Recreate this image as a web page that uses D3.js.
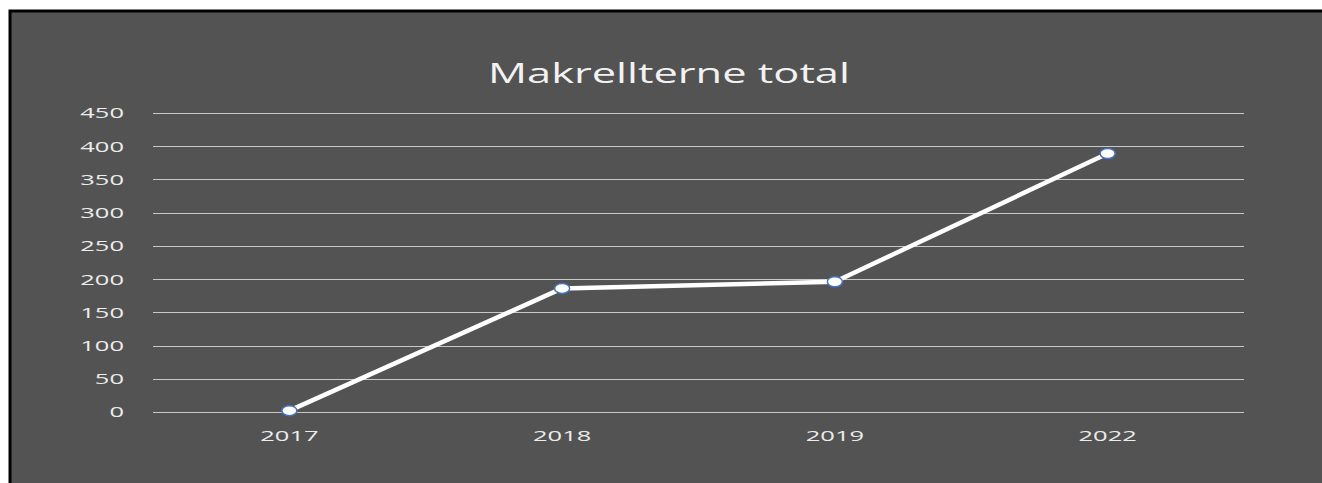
<!DOCTYPE html>
<html>
<head>
<meta charset="utf-8">
<script src="https://cdn.jsdelivr.net/npm/d3@7"></script>
<style>
  body { margin: 0; background: #fff; }
  svg { display: block; }
</style>
</head>
<body>
<script>
const title = "Makrellterne total";
const years = ["2017", "2018", "2019", "2022"];
const totals = [2, 186, 196, 389];
const yTicks = [0, 50, 100, 150, 200, 250, 300, 350, 400, 450];

const w = 1322;
const h = 483;
const margin = { top: 113, right: 78, bottom: 71, left: 153 };
const font = "'Open Sans', sans-serif";
const stretch = 1.7; // the reference text is drawn wide

const svg = d3.select("body").append("svg").attr("width", w).attr("height", h);

// dark chart area with black frame
svg
  .append("rect")
  .attr("x", 10)
  .attr("y", 11)
  .attr("width", w + 20)
  .attr("height", h + 20)
  .attr("fill", "#535353")
  .attr("stroke", "#000")
  .attr("stroke-width", 3);

const x = d3
  .scaleBand()
  .domain(years)
  .range([margin.left, w - margin.right]);

const y = d3
  .scaleLinear()
  .domain([0, 450])
  .range([h - margin.bottom, margin.top]);

svg
  .append("text")
  .attr("transform", "translate(669,83) scale(1.55,1)")
  .attr("text-anchor", "middle")
  .attr("fill", "#f2f2f2")
  .style("font-family", font)
  .style("font-size", "28px")
  .text(title);

// gridlines
svg
  .append("g")
  .selectAll("line")
  .data(yTicks)
  .enter()
  .append("line")
  .attr("x1", margin.left)
  .attr("x2", w - margin.right)
  .attr("y1", (d) => Math.round(y(d)) + 0.5)
  .attr("y2", (d) => Math.round(y(d)) + 0.5)
  .attr("stroke", "#c8c8c8")
  .attr("stroke-width", 1.2);

// y axis labels
svg
  .append("g")
  .selectAll("text")
  .data(yTicks)
  .enter()
  .append("text")
  .attr("transform", (d) => `translate(124,${y(d)}) scale(${stretch},1)`)
  .attr("dy", "0.36em")
  .attr("text-anchor", "end")
  .attr("fill", "#ececec")
  .style("font-family", font)
  .style("font-size", "15px")
  .text((d) => d);

// x axis labels
svg
  .append("g")
  .selectAll("text")
  .data(years)
  .enter()
  .append("text")
  .attr("transform", (d) => `translate(${x(d) + x.bandwidth() / 2},441) scale(${stretch},1)`)
  .attr("text-anchor", "middle")
  .attr("fill", "#ececec")
  .style("font-family", font)
  .style("font-size", "15px")
  .text((d) => d);

const pts = years.map((yr, i) => [x(yr) + x.bandwidth() / 2, y(totals[i])]);

svg
  .append("path")
  .attr("d", d3.line()(pts))
  .attr("fill", "none")
  .attr("stroke", "#fff")
  .attr("stroke-width", 4.5)
  .attr("stroke-linejoin", "round");

svg
  .selectAll("ellipse")
  .data(pts)
  .enter()
  .append("ellipse")
  .attr("cx", (d) => d[0])
  .attr("cy", (d) => d[1])
  .attr("rx", 7.5)
  .attr("ry", 5)
  .attr("fill", "#fff")
  .attr("stroke", "#4472c4")
  .attr("stroke-width", 1.5);
</script>
</body>
</html>
